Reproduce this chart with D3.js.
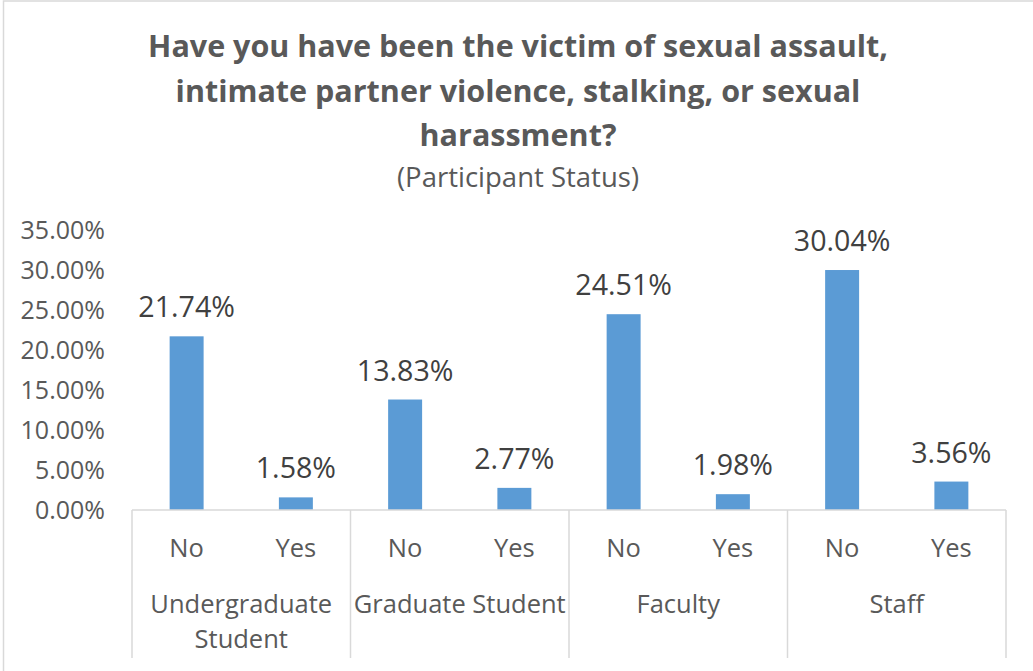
<!DOCTYPE html>
<html>
<head>
<meta charset="utf-8">
<script src="https://cdn.jsdelivr.net/npm/d3@7/dist/d3.min.js"></script>
<style>
  html, body { margin: 0; padding: 0; background: #ffffff; }
  svg { display: block; font-family: "Open Sans", "DejaVu Sans", sans-serif; }
</style>
</head>
<body>
<svg id="chart" width="1033" height="671"></svg>
<script>
// Participant groups and the answer given within each group
const groups = ["Undergraduate Student", "Graduate Student", "Faculty", "Staff"];
const responses = ["No", "Yes"];
// Share of participants (percent) per group and answer
const noValues = [21.74, 13.83, 24.51, 30.04];
const yesValues = [1.58, 2.77, 1.98, 3.56];
// Value axis ticks (percent)
const yTicks = [0, 5, 10, 15, 20, 25, 30, 35];

const titleLines = [
  "Have you have been the victim of sexual assault,",
  "intimate partner violence, stalking, or sexual",
  "harassment?"
];
const subtitle = "(Participant Status)";

// Flatten into one row per bar
const rows = [];
groups.forEach((g, gi) => {
  rows.push({ group: g, gi, answer: responses[0], value: noValues[gi] });
  rows.push({ group: g, gi, answer: responses[1], value: yesValues[gi] });
});
rows.forEach((r, i) => r.key = i);

const svg = d3.select("#chart");
const textColor = "#595959";
const lineColor = "#d9d9d9";

const plot = { left: 132, right: 1006, top: 230.4, bottom: 510 };

// Chart frame
svg.append("rect")
  .attr("x", 3.5).attr("y", 1)
  .attr("width", 1100).attr("height", 720)
  .attr("fill", "none").attr("stroke", lineColor).attr("stroke-width", 1.5);

const x = d3.scaleBand()
  .domain(rows.map(d => d.key))
  .range([plot.left, plot.right])
  .paddingInner(0.689)
  .paddingOuter(0.689 / 2);

const xGroup = d3.scaleBand()
  .domain(groups)
  .range([plot.left, plot.right]);

const y = d3.scaleLinear().domain([0, 35]).range([plot.bottom, plot.top]);

// Title and subtitle
const titleX = 518;
svg.append("g").selectAll("text")
  .data(titleLines)
  .join("text")
  .attr("x", titleX)
  .attr("y", (d, i) => [57, 102, 146][i])
  .attr("text-anchor", "middle")
  .attr("font-size", 30.5)
  .attr("font-weight", "bold")
  .attr("fill", textColor)
  .text(d => d);

svg.append("text")
  .attr("x", titleX).attr("y", 187)
  .attr("text-anchor", "middle")
  .attr("font-size", 27.5)
  .attr("fill", textColor)
  .text(subtitle);

// Value axis labels (no axis line, no gridlines)
const yAxis = d3.axisLeft(y)
  .tickValues(yTicks)
  .tickSize(0)
  .tickPadding(0)
  .tickFormat(d => d3.format(".2f")(d) + "%");
const yg = svg.append("g")
  .attr("transform", "translate(105,0)")
  .call(yAxis);
yg.select(".domain").remove();
yg.selectAll("text")
  .attr("font-size", 25)
  .attr("font-family", "Open Sans")
  .attr("fill", textColor)
  .attr("dy", "0.34em");

// Bars
svg.append("g").selectAll("rect")
  .data(rows)
  .join("rect")
  .attr("x", d => x(d.key))
  .attr("y", d => y(d.value))
  .attr("width", x.bandwidth())
  .attr("height", d => y(0) - y(d.value))
  .attr("fill", "#5b9bd5");

// Data labels
svg.append("g").selectAll("text")
  .data(rows)
  .join("text")
  .attr("x", d => x(d.key) + x.bandwidth() / 2)
  .attr("y", d => y(d.value) - 19)
  .attr("text-anchor", "middle")
  .attr("font-size", 28.6)
  .attr("fill", "#404040")
  .text(d => d.value.toFixed(2) + "%");

// Category axis: baseline and group dividers
svg.append("line")
  .attr("x1", plot.left).attr("x2", plot.right)
  .attr("y1", plot.bottom).attr("y2", plot.bottom)
  .attr("stroke", lineColor).attr("stroke-width", 1.5);

const dividers = groups.map(g => xGroup(g)).concat([plot.right]);
svg.append("g").selectAll("line")
  .data(dividers)
  .join("line")
  .attr("x1", d => d).attr("x2", d => d)
  .attr("y1", plot.bottom).attr("y2", 658)
  .attr("stroke", lineColor).attr("stroke-width", 1.5);

// Answer labels
svg.append("g").selectAll("text")
  .data(rows)
  .join("text")
  .attr("x", d => x(d.key) + x.bandwidth() / 2)
  .attr("y", 557)
  .attr("text-anchor", "middle")
  .attr("font-size", 25.5)
  .attr("fill", textColor)
  .text(d => d.answer);

// Group labels, wrapped to the width of the group
const groupLabels = svg.append("g").selectAll("text")
  .data(groups)
  .join("text")
  .attr("x", d => xGroup(d) + xGroup.bandwidth() / 2)
  .attr("y", 613)
  .attr("text-anchor", "middle")
  .attr("font-size", 25.5)
  .attr("fill", textColor);

groupLabels.each(function (d) {
  const el = d3.select(this);
  const maxW = xGroup.bandwidth() - 2;
  const words = d.split(" ");
  let lines = [];
  let cur = [];
  const probe = el.append("tspan");
  words.forEach(w => {
    const test = cur.concat([w]).join(" ");
    probe.text(test);
    if (probe.node().getComputedTextLength() > maxW && cur.length) {
      lines.push(cur.join(" "));
      cur = [w];
    } else {
      cur.push(w);
    }
  });
  lines.push(cur.join(" "));
  probe.remove();
  lines.forEach((line, i) => {
    el.append("tspan")
      .attr("x", xGroup(d) + xGroup.bandwidth() / 2)
      .attr("dy", i === 0 ? 0 : 35)
      .text(line);
  });
});
</script>
</body>
</html>
